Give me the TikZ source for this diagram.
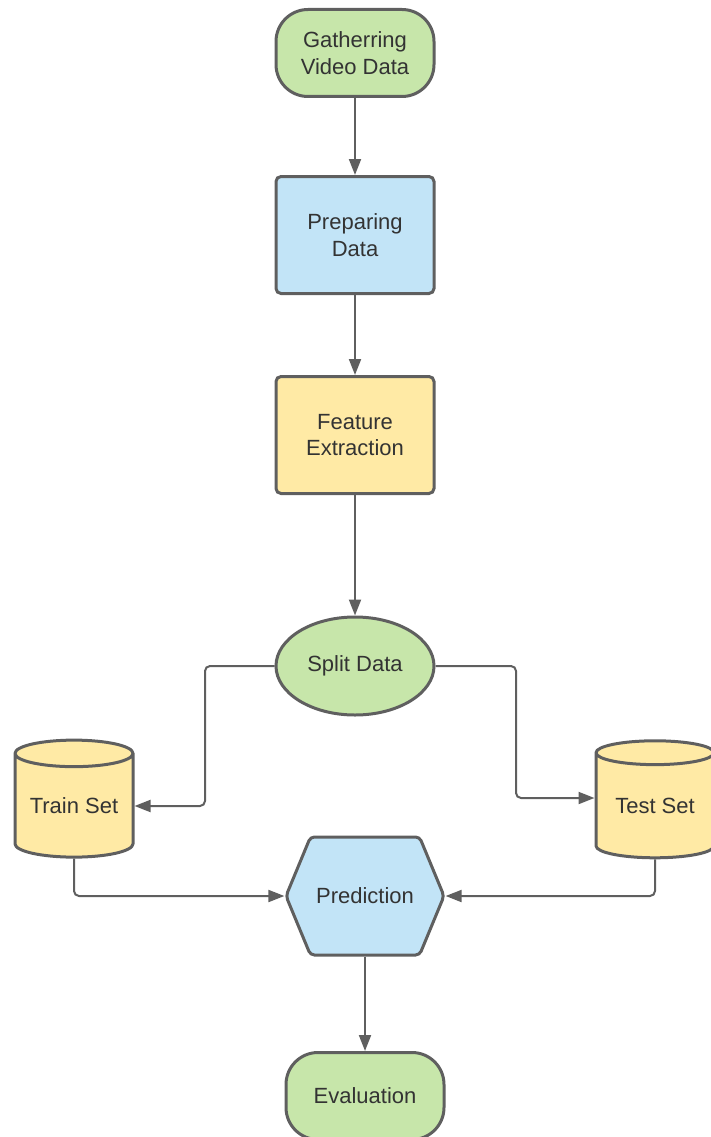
\documentclass[tikz,border=0pt]{standalone}
\usepackage{fontspec}
\setmainfont{Liberation Sans}
\usetikzlibrary{shapes.geometric,shapes.symbols,arrows.meta}

\definecolor{boxgreen}{HTML}{C7E6AA}
\definecolor{boxblue}{HTML}{C2E4F7}
\definecolor{boxyellow}{HTML}{FFEAA5}
\definecolor{linegray}{HTML}{5F5F5F}
\definecolor{textgray}{HTML}{333333}

\tikzset{
    base/.style={draw=linegray, line width=3pt, text=textgray, align=center,
        font=\fontsize{22}{26.5}\selectfont, inner sep=0pt},
    terminal/.style={base, rectangle, fill=boxgreen, rounded corners=32pt,
        minimum width=158pt, minimum height=87pt},
    process/.style={base, rectangle, rounded corners=5pt,
        minimum width=158pt, minimum height=117pt},
    splitnode/.style={base, ellipse, fill=boxgreen,
        minimum width=158pt, minimum height=98pt},
    dataset/.style={base, cylinder, shape border rotate=90, aspect=0.3,
        fill=boxyellow, minimum width=118pt, minimum height=117pt},
    predict/.style={base, signal, signal to=east and west, signal pointer angle=135,
        fill=boxblue, rounded corners=4pt, minimum width=158pt, minimum height=118pt},
    flow/.style={draw=linegray, line width=2pt, rounded corners=5pt,
        -{Triangle[length=16pt,width=12pt]}}
}

\begin{document}
\begin{tikzpicture}[x=1pt, y=-1pt]
        \useasboundingbox (0,0) rectangle (710,1137);

        % 流程节点
        \node[terminal] (gather) at (355,53) {Gatherring\\Video Data};
        \node[process, fill=boxblue] (prep) at (355,235) {Preparing\\Data};
        \node[process, fill=boxyellow] (feat) at (355,435) {Feature\\Extraction};
        \node[splitnode] (split) at (355,666) {Split Data};

        % 数据集
        \node[dataset] (train) at (74,806) {Train Set};
        \node[dataset] (test) at (655,806) {Test Set};

        \node[predict] (pred) at (365,896) {Prediction};
        \node[terminal] (eval) at (365,1096) {Evaluation};

        % 连线
        \draw[flow] (gather) -- (prep);
        \draw[flow] (prep) -- (feat);
        \draw[flow] (feat) -- (split);

        \coordinate (split_left) at (205,666);
        \coordinate (split_right) at (516,666);
        \draw[flow] (split.west) -- (split_left) |- (train.east);
        \draw[flow] (split.east) -- (split_right) |- ([yshift=8pt]test.west);

        \draw[flow] (train.south) |- (pred.west);
        \draw[flow] (test.south) |- (pred.east);
        \draw[flow] (pred) -- (eval);
    \end{tikzpicture}
\end{document}
